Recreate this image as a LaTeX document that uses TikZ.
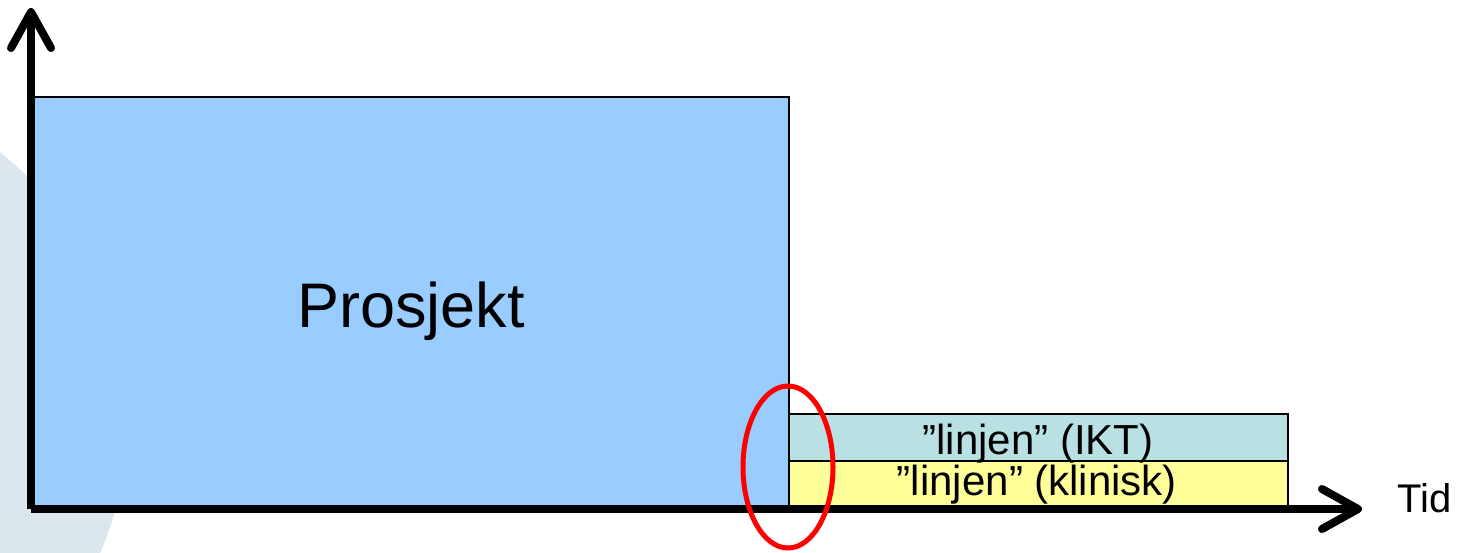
\documentclass[tikz,border=0pt]{standalone}
\usepackage{fontspec}
\setmainfont{Liberation Sans}
\usetikzlibrary{arrows.meta}
\definecolor{bgshade}{RGB}{220,231,237}
\definecolor{prosjektblue}{RGB}{153,204,255}
\definecolor{iktteal}{RGB}{185,224,227}
\definecolor{kliniskyellow}{RGB}{255,255,153}
\tikzset{
  box/.style={draw=black, line width=2pt, inner sep=0pt, anchor=south west},
  axis/.style={line width=8pt, -{Straight Barb[length=36pt, width=40pt, round]}},
  lbl/.style={anchor=base, inner sep=0pt}
}
\begin{document}
\begin{tikzpicture}[x=1pt, y=1pt]
	\useasboundingbox (0,0) rectangle (1457,552);
	\begin{scope}
		\clip (0,0) rectangle (1457,552);
		\fill[bgshade] (-212,134) circle (340);
	\end{scope}
	\node[box, fill=prosjektblue, minimum width=755pt, minimum height=410pt] (prosjekt) at (33,44) {};
	\node[box, fill=kliniskyellow, minimum width=499pt, minimum height=46pt] (klinisk) at (788,44) {};
	\node[box, fill=iktteal, minimum width=499pt, minimum height=47pt] (ikt) at (788,90) {};
	\coordinate (origo) at (31,43);
	\coordinate (ytopp) at (31,544);
	\coordinate (xslutt) at (1362,43);
	\draw[axis] (origo) -- (ytopp);
	\draw[axis] (origo) -- (xslutt);
	\draw[red, line width=5pt] (788,85) ellipse (45 and 81);
	\node[lbl, font=\fontsize{63}{70}\selectfont] (prosjektlbl) at (411,224) {Prosjekt};
	\node[lbl, font=\fontsize{42}{48}\selectfont] (iktlbl) at (1038,97) {”linjen” (IKT)};
	\node[lbl, font=\fontsize{42}{48}\selectfont] (kliniisklbl) at (1037,57) {”linjen” (klinisk)};
	\node[lbl, anchor=base west, font=\fontsize{40}{46}\selectfont] (tid) at (1397,40) {Tid};
\end{tikzpicture}
\end{document}
